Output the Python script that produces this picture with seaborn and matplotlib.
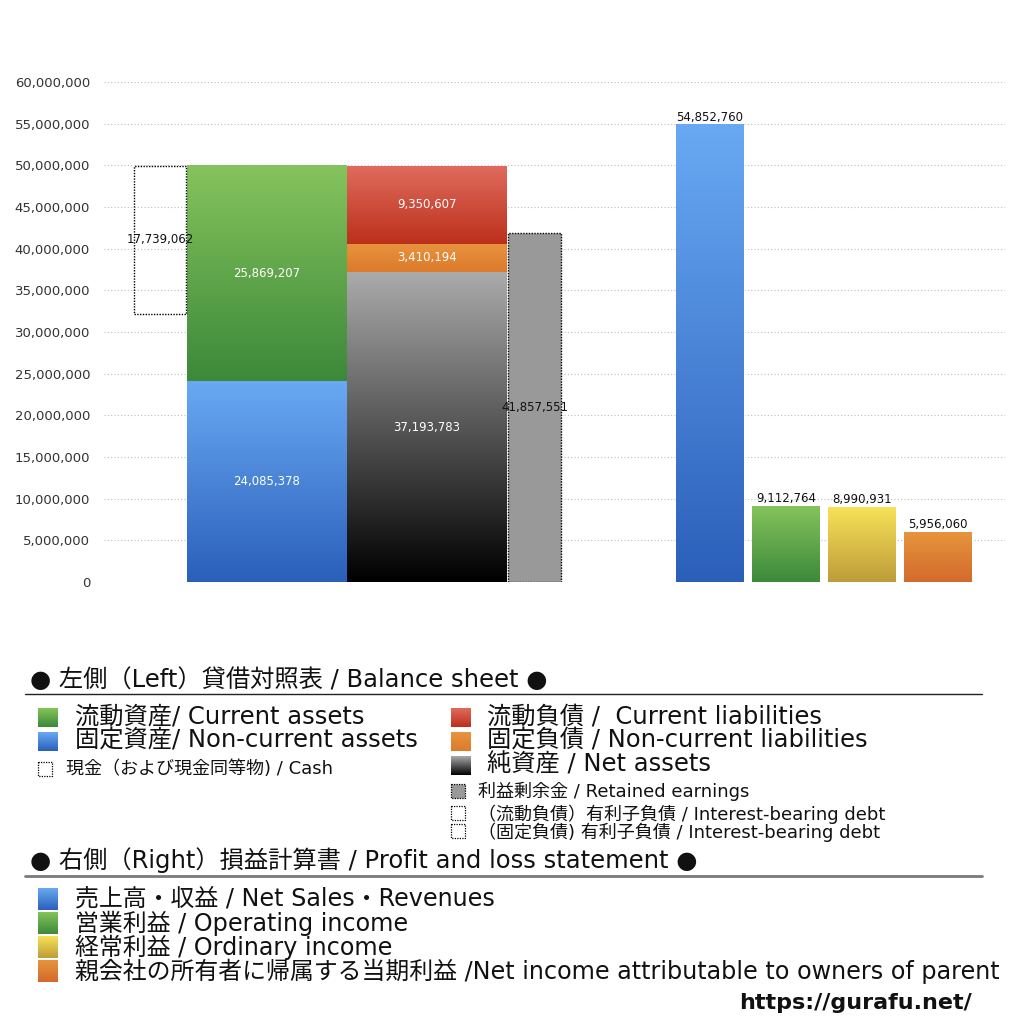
import numpy as np
import pandas as pd
import seaborn as sns
import matplotlib.pyplot as plt
from matplotlib.colors import LinearSegmentedColormap
from matplotlib.patches import Rectangle

# balance sheet (left side)
noncurrent_assets = 24085378
current_assets = 25869207
cash = 17739062
net_assets = 37193783
noncurrent_liabilities = 3410194
current_liabilities = 9350607
retained_earnings = 41857551

# profit and loss (right side)
pl_items = ['売上高・収益', '営業利益', '経常利益', '当期利益']
pl_values = [54852760, 9112764, 8990931, 5956060]

y_ticks = list(range(0, 60000001, 5000000))

# gradient colours (top, bottom)
GREEN = ('#86c35c', '#3b893a')
BLUE = ('#69a9f3', '#2b5fba')
RED = ('#e06b5d', '#bb301b')
ORANGE_L = ('#e9943e', '#dc7a2b')
GRAY = ('#ababab', '#000000')
YELLOW = ('#f7e256', '#bd9c3b')
ORANGE_P = ('#e6953d', '#d36a2c')


def fill_gradient(ax, x0, y0, w, h, top, bottom, zorder=3):
    cmap = LinearSegmentedColormap.from_list('grad', [top, bottom])
    grad = np.linspace(0, 1, 256).reshape(-1, 1)
    ax.imshow(grad, cmap=cmap, extent=[x0, x0 + w, y0, y0 + h], aspect='auto',
              origin='upper', zorder=zorder, interpolation='bilinear')


def patch_gradient(ax, patch, colors):
    fill_gradient(ax, patch.get_x(), patch.get_y(), patch.get_width(), patch.get_height(), colors[0], colors[1])


sns.set_theme(style='white')
plt.rcParams['font.family'] = ['DejaVu Sans', 'Noto Sans CJK JP']
plt.rcParams['text.color'] = '#111111'

fig = plt.figure(figsize=(10.24, 10.24), dpi=100)
ax = fig.add_axes([104 / 1024, 1 - 582 / 1024, (1005 - 104) / 1024, 500 / 1024])

# left: balance sheet columns
total_assets = noncurrent_assets + current_assets
b1 = ax.bar(267, noncurrent_assets, width=160, color=BLUE[1], zorder=2)
b2 = ax.bar(267, current_assets, bottom=noncurrent_assets, width=160, color=GREEN[1], zorder=2)
b3 = ax.bar(427, net_assets, width=160, color=GRAY[1], zorder=2)
b4 = ax.bar(427, noncurrent_liabilities, bottom=net_assets, width=160, color=ORANGE_L[1], zorder=2)
b5 = ax.bar(427, current_liabilities, bottom=net_assets + noncurrent_liabilities, width=160,
            color=RED[1], zorder=2)
for cont, cols in [(b1, BLUE), (b2, GREEN), (b3, GRAY), (b4, ORANGE_L), (b5, RED)]:
    for p in cont.patches:
        patch_gradient(ax, p, cols)
        ax.text(p.get_x() + p.get_width() / 2, p.get_y() + p.get_height() / 2,
                f'{int(round(p.get_height())):,}', ha='center', va='center',
                color='white', fontsize=8.5, zorder=5)

# cash (dotted outline) and retained earnings
ax.bar(160, cash, bottom=total_assets - cash, width=52, fill=False, edgecolor='black',
       linestyle=(0, (1, 1)), linewidth=1, zorder=4)
ax.text(160, total_assets - cash / 2, f'{cash:,}', ha='center', va='center', fontsize=8.5,
        color='#111111', zorder=5)
ax.bar(534.5, retained_earnings, width=53, color='#999999', edgecolor='black',
       linestyle=(0, (1, 1)), linewidth=1, zorder=4)
ax.text(534.5, retained_earnings / 2, f'{retained_earnings:,}', ha='center', va='center',
        fontsize=8.5, color='#111111', zorder=5)

# right: profit and loss bars with seaborn
pl_df = pd.DataFrame({'pos': [710, 786, 862, 938], 'value': pl_values, 'item': pl_items})
n_before = len(ax.patches)
sns.barplot(data=pl_df, x='pos', y='value', hue='item', native_scale=True, orient='x',
            dodge=False, width=68 / 76, palette=[BLUE[1], GREEN[1], YELLOW[1], ORANGE_P[1]],
            legend=False, ax=ax, zorder=2)
pl_patches = ax.patches[n_before:]
for p, cols in zip(pl_patches, [BLUE, GREEN, YELLOW, ORANGE_P]):
    if p.get_height() <= 0:
        continue
    patch_gradient(ax, p, cols)
    ax.annotate(f'{int(round(p.get_height())):,}', (p.get_x() + p.get_width() / 2, p.get_height()),
                xytext=(0, 1), textcoords='offset points', ha='center', va='bottom',
                fontsize=8.5, color='#111111', zorder=5)

ax.set_xlim(104, 1005)
ax.set_ylim(0, 60000000)
ax.set_xticks([])
ax.set_yticks(y_ticks)
ax.set_yticklabels([f'{v:,}' for v in y_ticks], fontsize=9.5, color='#333333')
ax.tick_params(axis='y', length=0, pad=10)
ax.set_xlabel('')
ax.set_ylabel('')
ax.yaxis.grid(True, linestyle=(0, (1, 2)), color='#bdbdbd', linewidth=0.8)
ax.set_axisbelow(True)
for s in ax.spines.values():
    s.set_visible(False)

# legend panel in pixel coordinates
lg = fig.add_axes([0, 0, 1, 1])
lg.set_xlim(0, 1024)
lg.set_ylim(1024, 0)
lg.axis('off')
lg.patch.set_alpha(0)


def square(x0, y0, x1, y1, colors):
    fill_gradient(lg, x0, y1, x1 - x0, y0 - y1, colors[0], colors[1])


def dotted_square(x0, y0, x1, y1, face='none'):
    lg.add_patch(Rectangle((x0, y0), x1 - x0, y1 - y0, facecolor=face, edgecolor='black',
                           linestyle=(0, (1, 1)), linewidth=0.9, zorder=4))


big = 17.5
lg.text(30, 680, '● 左側（Left）貸借対照表 / Balance sheet ●', fontsize=big, va='center')
lg.plot([25, 982], [694, 694], color='#222222', lw=1)

square(38, 708, 58, 727, GREEN)
lg.text(75, 717, '流動資産/ Current assets', fontsize=big, va='center')
square(38, 732, 58, 751, BLUE)
lg.text(75, 741, '固定資産/ Non-current assets', fontsize=big, va='center')
dotted_square(38, 762, 52, 776)
lg.text(66, 769, '現金（および現金同等物) / Cash', fontsize=13, va='center')

square(451, 708, 471, 727, RED)
lg.text(487, 717, '流動負債 /  Current liabilities', fontsize=big, va='center')
square(451, 732, 471, 751, ORANGE_L)
lg.text(487, 741, '固定負債 / Non-current liabilities', fontsize=big, va='center')
square(451, 756, 471, 775, GRAY)
lg.text(487, 765, '純資産 / Net assets', fontsize=big, va='center')
dotted_square(451, 784, 465, 798, face='#999999')
lg.text(478, 791, '利益剰余金 / Retained earnings', fontsize=13, va='center')
dotted_square(451, 806, 465, 820)
lg.text(478, 814, '（流動負債）有利子負債 / Interest-bearing debt', fontsize=13, va='center')
dotted_square(451, 824, 465, 838)
lg.text(478, 832, '（固定負債) 有利子負債 / Interest-bearing debt', fontsize=13, va='center')

lg.text(30, 860, '● 右側（Right）損益計算書 / Profit and loss statement ●', fontsize=big, va='center')
lg.plot([25, 982], [876, 876], color='#7a7a7a', lw=2)

pl_legend = ['売上高・収益 / Net Sales・Revenues', '営業利益 / Operating income',
             '経常利益 / Ordinary income',
             '親会社の所有者に帰属する当期利益 /Net income attributable to owners of parent']
for i, (txt, cols) in enumerate(zip(pl_legend, [BLUE, GREEN, YELLOW, ORANGE_P])):
    yc = 899 + 24 * i
    square(38, yc - 11, 58, yc + 11, cols)
    lg.text(75, yc, txt, fontsize=17.2, va='center')

lg.text(972, 1003, 'https://gurafu.net/', fontsize=16, fontweight='bold', ha='right',
        va='center')

fig.savefig('out.png', dpi=100)
